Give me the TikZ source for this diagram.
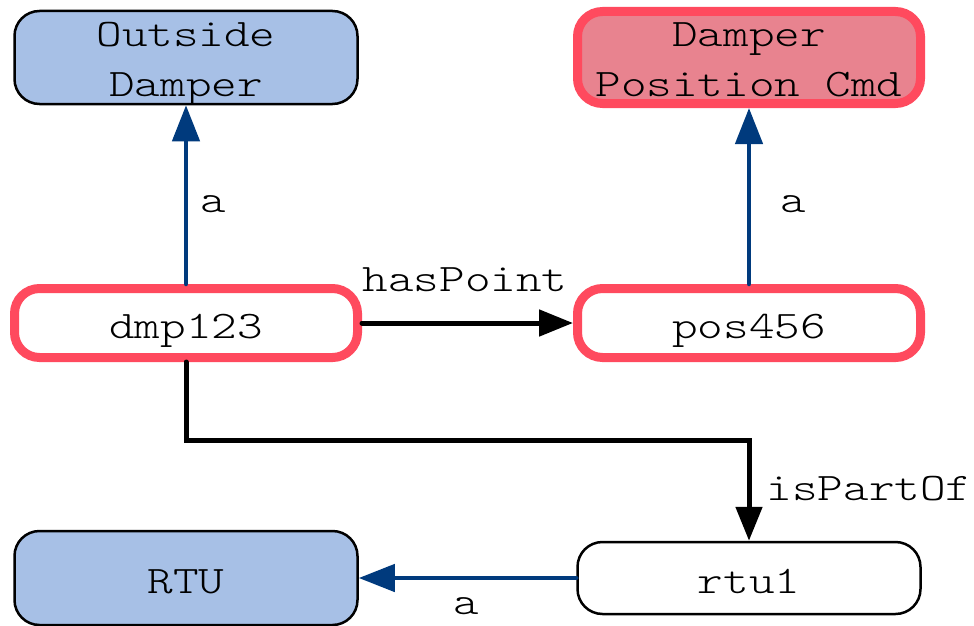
\documentclass[tikz,border=0pt]{standalone}
\usepackage{fontspec}
\setmonofont[FakeStretch=1.25]{Latin Modern Mono Light}
\usetikzlibrary{arrows.meta}
\definecolor{classfill}{HTML}{A7C0E6}
\definecolor{cmdfill}{HTML}{E8838F}
\definecolor{hilite}{HTML}{FF4A5E}
\definecolor{relblue}{HTML}{003A7D}
% two-line box text, referenced at the first baseline
\newcommand{\twolines}[2]{\parbox[t]{343pt}{\centering #1\\#2}}
\tikzset{
  txt/.style={font=\ttfamily\fontsize{39}{50}\selectfont},
  box/.style={txt, rounded corners=25pt, minimum width=343pt, inner sep=0pt},
  oneline/.style={text height=30pt, text depth=0pt},
  twoline/.style={text height=24pt, text depth=45pt},
  classbox/.style={box, draw=black, line width=2.5pt, fill=classfill},
  instbox/.style={box, draw=black, line width=2.5pt, fill=white},
  redbox/.style={box, draw=hilite, line width=9pt},
  lbl/.style={txt, inner sep=0pt, anchor=base},
  typearrow/.style={draw=relblue, line width=4.5pt, line cap=round,
    -{Triangle[length=36pt,width=27pt]}},
  relarrow/.style={draw=black, line width=5pt, line cap=round, line join=miter,
    -{Triangle[length=34pt,width=26pt]}},
}
\begin{document}
\begin{tikzpicture}[x=1pt,y=-1pt]
\useasboundingbox (0,0) rectangle (974,626);
% classes
\node[classbox, twoline, minimum height=93pt] (od) at (186,57.5) {\twolines{Outside}{Damper}};
\node[redbox, twoline, fill=cmdfill, minimum height=92pt] (dpc) at (749,57.5) {\twolines{Damper}{Position Cmd}};
\node[classbox, oneline, minimum height=94pt] (rtuc) at (186,578) {RTU};
% instances
\node[redbox, oneline, fill=white, minimum height=69pt] (dmp) at (186,323) {dmp123};
\node[redbox, oneline, fill=white, minimum height=69pt] (pos) at (749,323) {pos456};
\node[instbox, oneline, minimum height=72pt] (rtu) at (749,578) {rtu1};
% relations
\coordinate (bendA) at (186,440);
\coordinate (bendB) at (749,440);
\draw[typearrow] (dmp.north) -- (od.south);
\draw[typearrow] (pos.north) -- (dpc.south);
\draw[relarrow] (dmp.east) -- (pos.west);
\draw[relarrow] (dmp.south) -- (bendA) -- (bendB) -- (rtu.north);
\draw[typearrow] (rtu.west) -- (rtuc.east);
% labels
\node[lbl] (la1) at (213,212) {a};
\node[lbl] (la2) at (793,212) {a};
\node[lbl] (lhp) at (465,291) {hasPoint};
\node[lbl] (lpo) at (869,500) {isPartOf};
\node[lbl] (la3) at (466,614) {a};
\end{tikzpicture}
\end{document}
